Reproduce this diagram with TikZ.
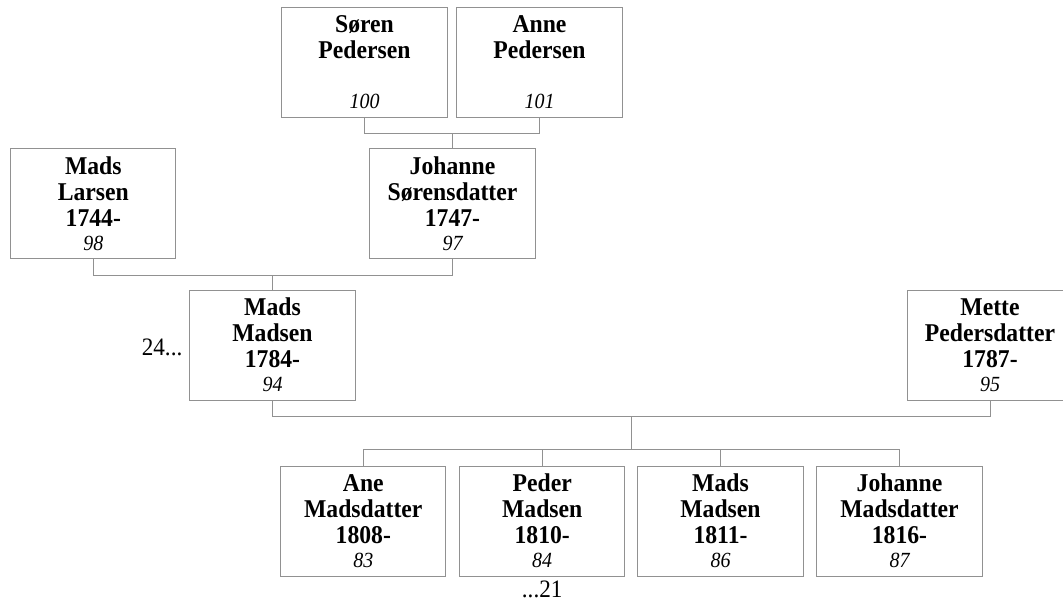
\documentclass[tikz,border=0pt]{standalone}
\usepackage{fontspec}
\setmainfont{Liberation Serif}[FakeStretch=0.925]
\usepackage{xcolor}
\definecolor{lgrey}{RGB}{145,145,145}
\usetikzlibrary{calc}
\tikzset{person/.style={draw=lgrey,line width=0.75pt,minimum width=124pt,minimum height=82.5pt,inner sep=0pt,align=center,font=\fontsize{19.2}{19.35}\selectfont\bfseries},
  link/.style={draw=lgrey,line width=0.75pt},
  gen/.style={inner sep=0pt,font=\fontsize{18.8}{20}\selectfont}}
\newcommand{\person}[4]{\node[person] (#1) at (#2) {#3\\[-1.3pt]{\fontsize{16.2}{18}\selectfont\mdseries\itshape #4}};}

\begin{document}
\begin{tikzpicture}[x=0.75pt,y=-0.75pt]
  \useasboundingbox (0,0) rectangle (1063,602);
  \pgfmathsetmacro{\drop}{16};
  % grandparents, parents
  \person{soren}{364.5,62.3}{Søren\\Pedersen\\\mbox{}}{100};
  \person{anne}{539.5,62.3}{Anne\\Pedersen\\\mbox{}}{101};
  \person{larsen}{93.3,203.7}{Mads\\Larsen\\1744-}{98};
  \person{johanne}{452.5,203.7}{Johanne\\Sørensdatter\\1747-}{97};
  \person{madsen}{272.5,345}{Mads\\Madsen\\1784-}{94};
  \person{mette}{990,345}{Mette\\Pedersdatter\\1787-}{95};
  % children
  \person{ane}{363.3,521}{Ane\\Madsdatter\\1808-}{83};
  \person{peder}{542.2,521}{Peder\\Madsen\\1810-}{84};
  \person{madsjr}{720.5,521}{Mads\\Madsen\\1811-}{86};
  \person{johannem}{899.5,521}{Johanne\\Madsdatter\\1816-}{87};
  \node[gen,anchor=base east] (gen24) at ($(madsen.west)+(-6.7,10)$) {24...};
  \node[gen,anchor=base] (gen21) at ($(peder.south)+(0,20.7)$) {...21};
  \coordinate (sa) at ($(soren.south)!.5!(anne.south)+(0,15.4)$);
  \coordinate (lj) at ($(larsen.south)!.5!(johanne.south)+(0,\drop)$);
  \coordinate (mm) at ($(madsen.south)!.5!(mette.south)+(0,\drop)$);
  \coordinate (kids) at ($(ane.north)+(0,-\drop)$);
  \path[link] (soren.south) |- (sa) -| (anne.south)
    (sa) -- (sa |- johanne.north)
    (larsen.south) |- (lj) -| (johanne.south)
    (lj) -- (lj |- madsen.north)
    (madsen.south) |- (mm) -| (mette.south)
    (mm) -- (mm |- kids)
    (ane.north) -- (kids) -| (johannem.north);
  \foreach \k in {peder,madsjr}
    \draw[link] (\k.north) -- (\k.north |- kids);
\end{tikzpicture}
\end{document}
